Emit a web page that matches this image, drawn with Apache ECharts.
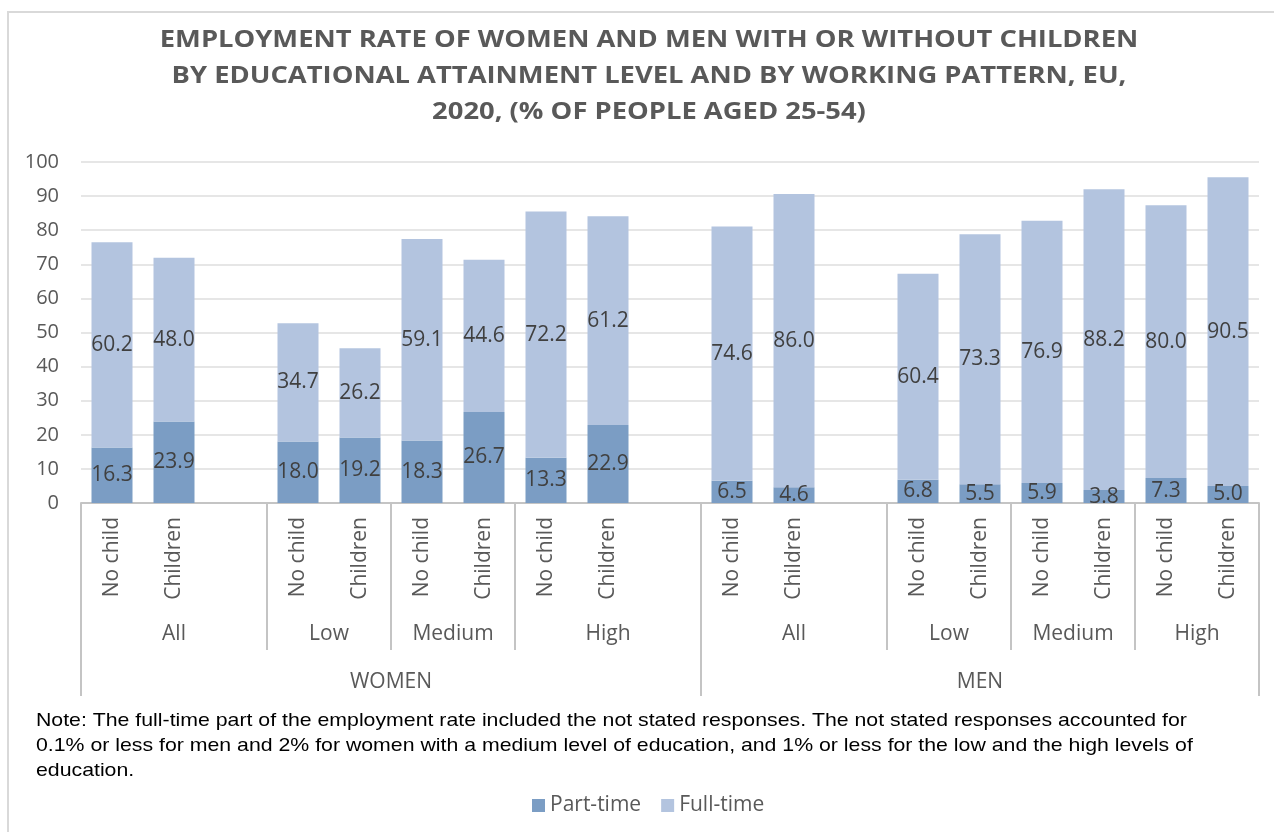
<!DOCTYPE html>
<html>
<head>
<meta charset="utf-8">
<script src="https://cdn.jsdelivr.net/npm/echarts@6/dist/echarts.min.js"></script>
<style>
	html, body { margin: 0; padding: 0; background: #fff; }
	#chart { width: 1274px; height: 832px; }
</style>
</head>
<body>
<div id="chart"></div>
<script>
// slots: each group keeps an empty slot after "All" and after the last group of each sex
var categories = ['No child', 'Children', '', 'No child', 'Children', 'No child', 'Children', 'No child', 'Children', '',
	'No child', 'Children', '', 'No child', 'Children', 'No child', 'Children', 'No child', 'Children'];
var partTime = [16.3, 23.9, null, 18.0, 19.2, 18.3, 26.7, 13.3, 22.9, null,
	6.5, 4.6, null, 6.8, 5.5, 5.9, 3.8, 7.3, 5.0];
var fullTime = [60.2, 48.0, null, 34.7, 26.2, 59.1, 44.6, 72.2, 61.2, null,
	74.6, 86.0, null, 60.4, 73.3, 76.9, 88.2, 80.0, 90.5];

// education level groups: name, first slot, number of slots
var levelNames = ['All', 'Low', 'Medium', 'High', 'All', 'Low', 'Medium', 'High'];
var levelStart = [0, 3, 5, 7, 10, 13, 15, 17];
var levelSize = [3, 2, 2, 3, 3, 2, 2, 2];
// sex groups
var sexNames = ['WOMEN', 'MEN'];
var sexStart = [0, 10];
var sexSize = [10, 9];

var yTicks = [0, 100, 10];

var titleText = 'EMPLOYMENT RATE OF WOMEN AND MEN WITH OR WITHOUT CHILDREN\n' +
	'BY EDUCATIONAL ATTAINMENT LEVEL AND BY WORKING PATTERN, EU,\n' +
	'2020, (% OF PEOPLE AGED 25-54)';
var noteText = 'Note: The full-time part of the employment rate included the not stated responses. The not stated responses accounted for\n' +
	'0.1% or less for men and 2% for women with a medium level of education, and 1% or less for the low and the high levels of\n' +
	'education.';

var slotW = (1274 - 81 - 15) / categories.length;

// build a label array for a group axis: label sits at the middle slot, shifted half a slot when the span is even
function groupLabels(names, starts, sizes) {
	var labels = categories.map(function() { return ''; });
	for (var i = 0; i < names.length; i++) {
		var mid = starts[i] + (sizes[i] - 1) / 2;
		var idx = Math.floor(mid);
		labels[idx] = (mid === idx ? '{c|' : '{s|') + names[i] + '}';
	}
	return labels;
}

function groupAxis(names, starts, sizes, tickLen, margin) {
	return {
		type: 'category',
		position: 'bottom',
		data: groupLabels(names, starts, sizes),
		axisLine: { show: false },
		axisTick: {
			show: true,
			length: tickLen,
			lineStyle: { color: '#c4c4c4', width: 2 },
			interval: function(index) { return starts.indexOf(index) >= 0; }
		},
		axisLabel: {
			interval: 0,
			margin: margin,
			color: '#595959',
			fontFamily: 'Open Sans',
			fontSize: 21,
			rich: {
				c: { fontFamily: 'Open Sans', fontSize: 21, color: '#595959' },
				s: { fontFamily: 'Open Sans', fontSize: 21, color: '#595959', padding: [0, 0, 0, slotW] }
			}
		}
	};
}

var chart = echarts.init(document.getElementById('chart'), null, { renderer: 'canvas' });

var labelOpt = {
	show: true,
	position: 'inside',
	color: '#404040',
	fontFamily: 'Open Sans',
	fontSize: 21,
	formatter: function(p) { return p.value == null ? '' : p.value.toFixed(1); }
};

chart.setOption({
	animation: false,
	backgroundColor: '#fff',
	graphic: [{
		type: 'rect',
		shape: { x: 8, y: 12, width: 1300, height: 900 },
		style: { fill: null, stroke: '#d9d9d9', lineWidth: 2 },
		silent: true
	}, {
		// title, widened a little like the original's letter spacing
		type: 'text',
		x: 649,
		y: 22,
		scaleX: 1.14,
		silent: true,
		style: {
			text: titleText,
			font: 'bold 24px "Open Sans"',
			lineHeight: 36,
			align: 'center',
			verticalAlign: 'top',
			fill: '#595959'
		}
	}, {
		// note under the axis, slightly widened like the original
		type: 'text',
		x: 36,
		y: 708,
		scaleX: 1.12,
		silent: true,
		style: {
			text: noteText,
			font: '19px "Liberation Sans"',
			lineHeight: 25,
			fill: '#000'
		}
	}],
	legend: {
		bottom: 11,
		left: 527,
		icon: 'rect',
		itemWidth: 13,
		itemHeight: 13,
		itemGap: 20,
		textStyle: { fontFamily: 'Open Sans', fontSize: 21, color: '#595959' },
		data: ['Part-time', 'Full-time']
	},
	grid: { left: 81, right: 15, top: 162, bottom: 329, containLabel: false },
	xAxis: [{
		type: 'category',
		data: categories,
		axisLine: { show: true, lineStyle: { color: '#c4c4c4', width: 2 } },
		axisTick: { show: false },
		axisLabel: {
			interval: 0,
			rotate: 90,
			margin: 14,
			color: '#595959',
			fontFamily: 'Open Sans',
			fontSize: 21
		}
	},
	groupAxis(levelNames, levelStart, levelSize, 147, 121),
	groupAxis(sexNames, sexStart, sexSize, 193, 169)
	],
	yAxis: {
		type: 'value',
		min: yTicks[0],
		max: yTicks[1],
		interval: yTicks[2],
		axisLine: { show: false },
		axisTick: { show: false },
		splitLine: { lineStyle: { color: '#e6e6e6', width: 2 } },
		axisLabel: { margin: 22, color: '#595959', fontFamily: 'Open Sans', fontSize: 20 }
	},
	series: [{
		name: 'Part-time',
		type: 'bar',
		stack: 'rate',
		barWidth: 41,
		itemStyle: { color: '#7b9dc4' },
		label: labelOpt,
		data: partTime
	}, {
		name: 'Full-time',
		type: 'bar',
		stack: 'rate',
		barWidth: 41,
		itemStyle: { color: '#b3c4df' },
		label: labelOpt,
		data: fullTime
	}]
});
</script>
</body>
</html>
